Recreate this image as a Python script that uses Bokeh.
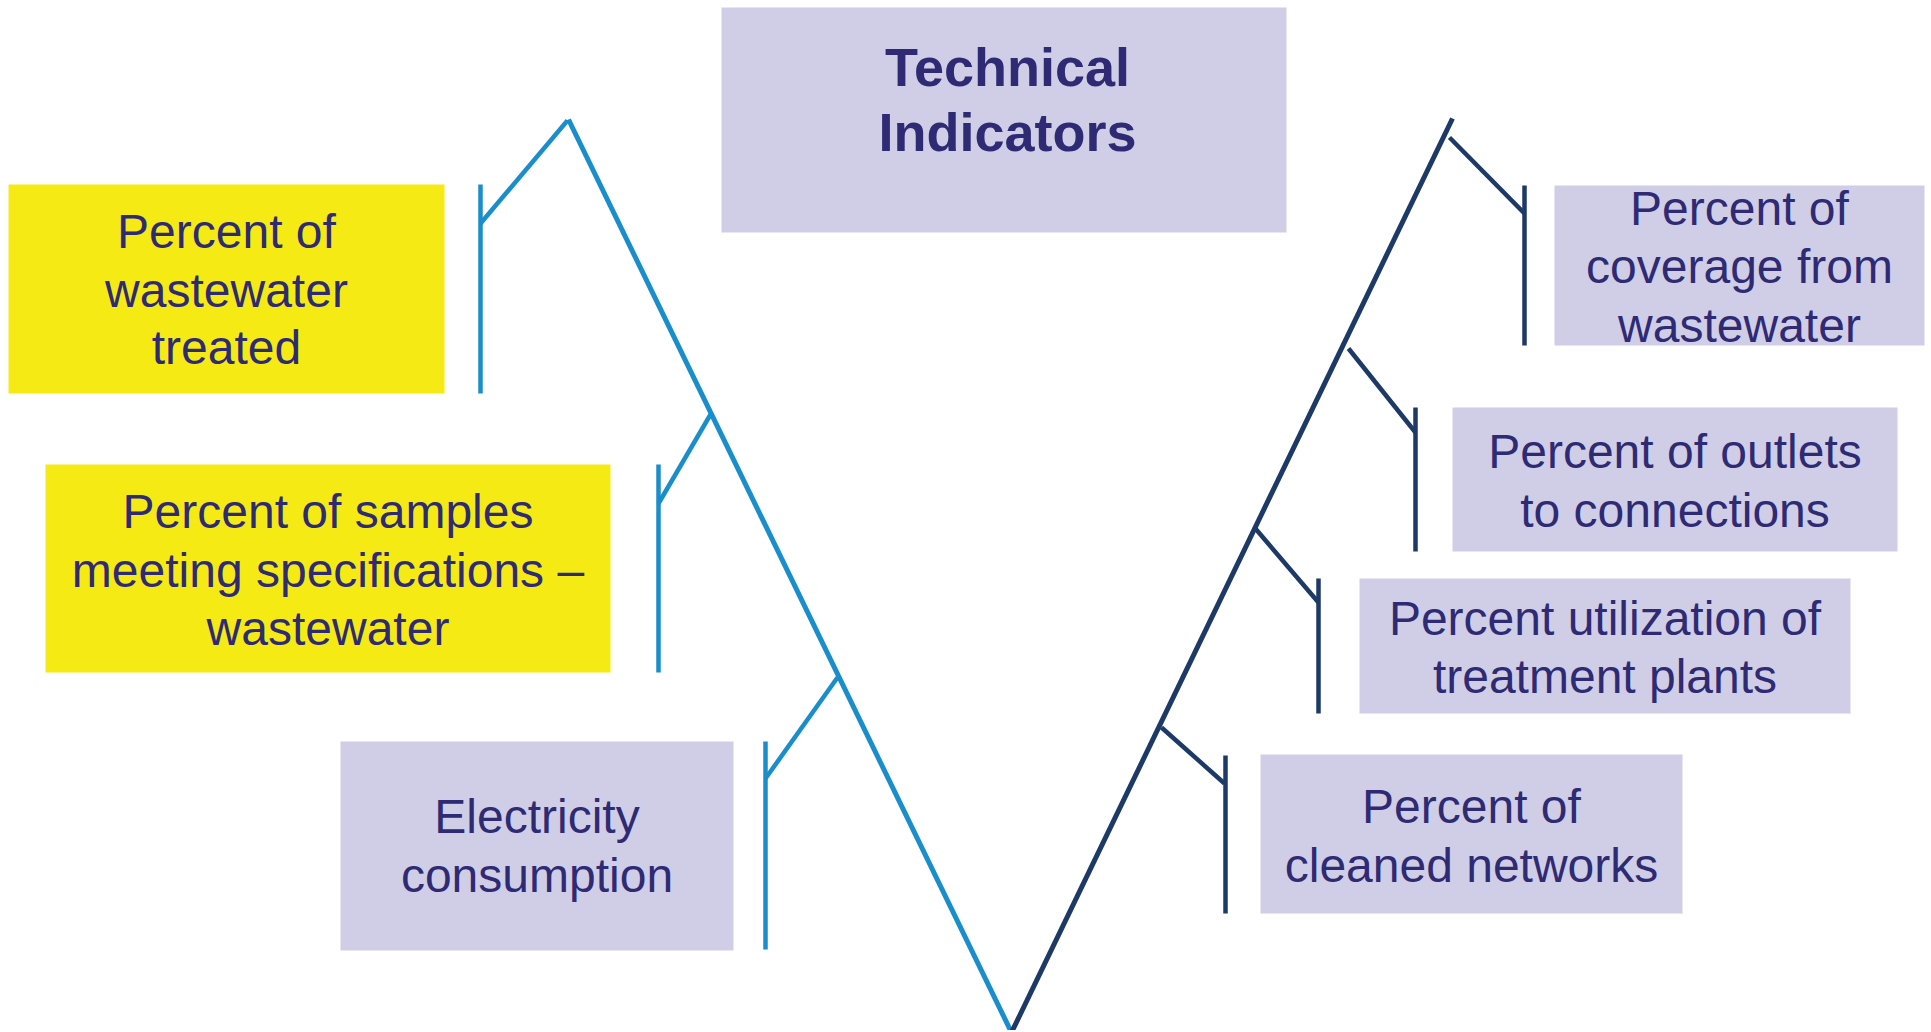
from bokeh.plotting import figure
from bokeh.models import Range1d
from bokeh.core.properties import value
from bokeh.embed import file_html
from bokeh.resources import INLINE

# ---- content ----
title_lines = ["Technical", "Indicators"]
left_labels = [
    ["Percent of", "wastewater", "treated"],
    ["Percent of samples", "meeting specifications \u2013", "wastewater"],
    ["Electricity", "consumption"],
]
right_labels = [
    ["Percent of", "coverage from", "wastewater"],
    ["Percent of outlets", "to connections"],
    ["Percent utilization of", "treatment plants"],
    ["Percent of", "cleaned networks"],
]
left_highlight = [True, True, False]

# ---- layout (page pixels) ----
title_box = (721, 1286, 7, 232)
title_baselines = [87, 152]
title_cx = 1007

left_boxes = [(8, 444, 184, 393), (45, 610, 464, 672), (340, 733, 741, 950)]
left_baselines = [[248, 307, 364], [528, 587, 645], [833, 892]]
right_boxes = [(1554, 1924, 185, 345), (1452, 1897, 407, 551),
               (1359, 1850, 578, 713), (1260, 1682, 754, 913)]
right_baselines = [[225, 283, 342], [468, 527], [635, 693], [823, 882]]

left_vert = [(480, 184, 393), (658, 464, 672), (765, 741, 949)]
left_diag = [((480, 223), (567, 120)), ((658, 503), (710, 414)), ((765, 778), (837, 677))]
right_vert = [(1524, 185, 345), (1415, 407, 551), (1318, 578, 713), (1225, 755, 913)]
right_diag = [((1449, 137), (1524, 213)), ((1348, 348), (1415, 432)),
              ((1254, 527), (1318, 602)), ((1161, 727), (1224, 783))]

main_left_x = [568, 1011]
main_left_y = [119, 1032]
main_right_x = [1011, 1452]
main_right_y = [1032, 118]

LIGHT = "#1a8ecb"
NAVY = "#1d3966"
YELLOW = "#f5ea14"
LAV = "#d0cee6"
TXT = "#2e2a74"
FONT = "Liberation Sans"
BODY_SHIFT = 17   # renderer baseline correction
TITLE_SHIFT = 21

W, H = 1925, 1030
p = figure(width=W, height=H, output_backend="svg", toolbar_location=None,
           x_range=Range1d(0, W), y_range=Range1d(H, 0),
           x_axis_type=None, y_axis_type=None, min_border=0)
p.grid.visible = False
p.outline_line_color = None
p.background_fill_color = "white"
p.border_fill_color = "white"

# boxes
boxes = [title_box] + left_boxes + right_boxes
colors = [LAV] + [YELLOW if h else LAV for h in left_highlight] + [LAV] * len(right_boxes)
p.quad(left=[b[0] for b in boxes], right=[b[1] for b in boxes],
       top=[b[2] for b in boxes], bottom=[b[3] for b in boxes],
       fill_color=colors, line_color=None)

# main V
p.line(main_left_x, main_left_y, line_color=LIGHT, line_width=5)
p.line(main_right_x, main_right_y, line_color=NAVY, line_width=5)

# brackets
x0, y0, x1, y1, sc = [], [], [], [], []
for (vx, vt, vb), ((ax, ay), (bx, by)) in zip(left_vert, left_diag):
    x0 += [vx, ax]; y0 += [vt, ay]; x1 += [vx, bx]; y1 += [vb, by]; sc += [LIGHT, LIGHT]
for (vx, vt, vb), ((ax, ay), (bx, by)) in zip(right_vert, right_diag):
    x0 += [vx, ax]; y0 += [vt, ay]; x1 += [vx, bx]; y1 += [vb, by]; sc += [NAVY, NAVY]
p.segment(x0=x0, y0=y0, x1=x1, y1=y1, line_color=sc, line_width=4.5)

# texts
tx, ty, tt = [], [], []
for lines, bl, b in zip(left_labels + right_labels, left_baselines + right_baselines,
                        left_boxes + right_boxes):
    cx = (b[0] + b[1]) / 2
    for s, yy in zip(lines, bl):
        tx.append(cx); ty.append(yy - BODY_SHIFT); tt.append(s)
p.text(x=tx, y=ty, text=tt, text_font=value(FONT), text_font_size="48px",
       text_color=TXT, text_align="center", text_baseline="alphabetic")

p.text(x=[title_cx] * len(title_lines), y=[b - TITLE_SHIFT for b in title_baselines],
       text=title_lines, text_font=value(FONT), text_font_size="54px",
       text_font_style="bold", text_color=TXT, text_align="center",
       text_baseline="alphabetic")

open("out.html", "w").write(file_html(p, INLINE))
